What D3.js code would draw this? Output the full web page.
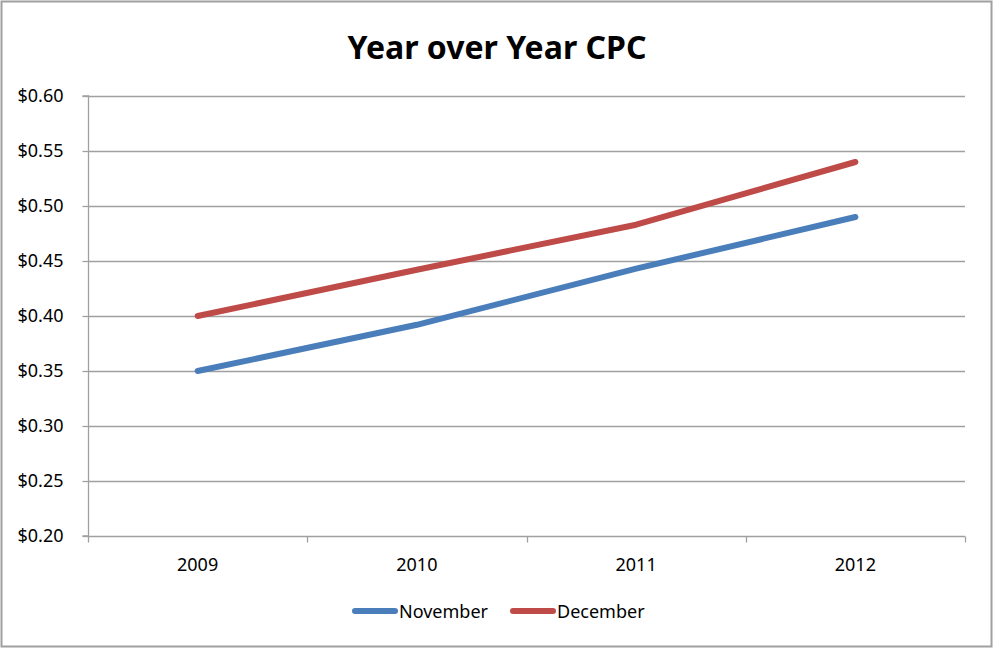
<!DOCTYPE html>
<html>
<head>
<meta charset="utf-8">
<script src="https://cdn.jsdelivr.net/npm/d3@7"></script>
<style>
	body { margin: 0; background: #fff; }
	text { font-family: "Noto Sans", "Open Sans", sans-serif; }
</style>
</head>
<body>
<div id="chart"></div>
<script>
// data
var years = ['2009', '2010', '2011', '2012'];
var november = [0.35, 0.392, 0.443, 0.49];
var december = [0.40, 0.442, 0.483, 0.54];
var yTicks = [0.20, 0.25, 0.30, 0.35, 0.40, 0.45, 0.50, 0.55, 0.60];

var series = [
	{ name: 'November', values: november, color: '#4a7ebb' },
	{ name: 'December', values: december, color: '#be4b48' }
];

// build canvas
var width = 994,
	height = 649;

var svg = d3.select('#chart')
			.append('svg')
			.attr('width', width)
			.attr('height', height);

// outer border
svg.append('rect')
	.attr('x', 1.5).attr('y', 1.5)
	.attr('width', width - 4).attr('height', height - 4)
	.attr('fill', '#fff')
	.attr('stroke', '#a0a0a0')
	.attr('stroke-width', 2);

var plot = { left: 88, right: 965, top: 96, bottom: 536 };

// scales
var x = d3.scaleBand()
		.domain(years)
		.range([plot.left, plot.right]);

var y = d3.scaleLinear()
		.domain([0.20, 0.60])
		.range([plot.bottom, plot.top]);

// title
svg.append('text')
	.attr('x', width / 2)
	.attr('y', 59)
	.attr('text-anchor', 'middle')
	.style('font-size', '32px')
	.style('font-weight', 'bold')
	.text('Year over Year CPC');

// gridlines
svg.append('g')
	.selectAll('line')
	.data(yTicks.slice(1)).enter()
	.append('line')
	.attr('x1', plot.left)
	.attr('x2', plot.right)
	.attr('y1', d => Math.round(y(d)) + 0.5)
	.attr('y2', d => Math.round(y(d)) + 0.5)
	.attr('stroke', '#a0a0a0')
	.attr('stroke-width', 1.3);

// y axis
var yAxis = svg.append('g')
	.attr('transform', 'translate(' + (plot.left + 0.5) + ',0)')
	.call(d3.axisLeft(y).tickValues(yTicks).tickSize(6).tickPadding(19)
		.tickFormat(d => '$' + d3.format('.2f')(d)));

// x axis
var xAxis = svg.append('g')
	.attr('transform', 'translate(0,' + (plot.bottom + 0.5) + ')')
	.call(d3.axisBottom(x).tickSize(0).tickPadding(22));

// category boundary ticks
xAxis.append('g')
	.selectAll('line')
	.data(years.map(d => x(d)).concat([plot.right])).enter()
	.append('line')
	.attr('x1', d => Math.round(d) + 0.5)
	.attr('x2', d => Math.round(d) + 0.5)
	.attr('y1', 0)
	.attr('y2', 6)
	.attr('stroke', '#a0a0a0')
	.attr('stroke-width', 1.3);

[yAxis, xAxis].forEach(function(a) {
	a.select('.domain').attr('stroke', '#a0a0a0').attr('stroke-width', 1.3);
	a.selectAll('.tick line').attr('stroke', '#a0a0a0').attr('stroke-width', 1.3);
	a.selectAll('.tick text')
		.style('font-size', '18px')
		.style('font-family', '"Noto Sans", "Open Sans", sans-serif')
		.attr('fill', '#000');
});
yAxis.select('.domain').attr('d', 'M-6,' + plot.top + 'H0V' + plot.bottom + 'H-6');
xAxis.select('.domain').attr('d', 'M' + plot.left + ',0H' + plot.right);

// lines
var line = d3.line()
		.x((d, i) => x(years[i]) + x.bandwidth() / 2)
		.y(d => y(d));

svg.append('g')
	.selectAll('path')
	.data(series).enter()
	.append('path')
	.attr('d', d => line(d.values))
	.attr('fill', 'none')
	.attr('stroke', d => d.color)
	.attr('stroke-width', 6)
	.attr('stroke-linecap', 'round')
	.attr('stroke-linejoin', 'round');

// legend
var legend = svg.append('g')
	.selectAll('g')
	.data(series).enter()
	.append('g')
	.attr('transform', (d, i) => 'translate(' + (355 + i * 158) + ',611)');

legend.append('line')
	.attr('x1', 0).attr('x2', 40)
	.attr('y1', 0).attr('y2', 0)
	.attr('stroke', d => d.color)
	.attr('stroke-width', 6)
	.attr('stroke-linecap', 'round');

legend.append('text')
	.attr('x', 44)
	.attr('y', 7)
	.style('font-size', '18px')
	.text(d => d.name);
</script>
</body>
</html>
